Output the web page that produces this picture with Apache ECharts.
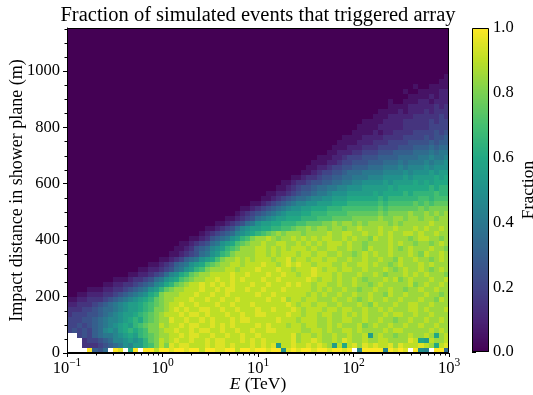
<!DOCTYPE html>
<html><head><meta charset="utf-8">
<script src="https://cdn.jsdelivr.net/npm/echarts/dist/echarts.min.js"></script>
<style>html,body{margin:0;padding:0;background:#fff}#c{width:533px;height:395px}</style>
</head><body><div id="c"></div>
<script>
// ---------- data ----------
const titleText = 'Fraction of simulated events that triggered array';
const xName = '{i|E} (TeV)';
const yName = 'Impact distance in shower plane (m)';
const cbName = 'Fraction';
const energyRange = [0.1, 1000];      // TeV, log-spaced bins
const nEnergyBins = 75;
const distanceMax = 1152;             // m
const nDistanceBins = 64;
const levelCodes = '0123456789abcdefghijk';   // fraction = index/20 ; '.' = no events
// rows from top (largest distance) to bottom (0 m), 75 energy bins each
const fractionRows = [
'00000 00000 00000 00000 00000 00000 00000 00000 00000 00000 00000 00000 00000 00000 00000',
'00000 00000 00000 00000 00000 00000 00000 00000 00000 00000 00000 00000 00000 00000 00000',
'00000 00000 00000 00000 00000 00000 00000 00000 00000 00000 00000 00000 00000 00000 00000',
'00000 00000 00000 00000 00000 00000 00000 00000 00000 00000 00000 00000 00000 00000 00000',
'00000 00000 00000 00000 00000 00000 00000 00000 00000 00000 00000 00000 00000 00000 00000',
'00000 00000 00000 00000 00000 00000 00000 00000 00000 00000 00000 00000 00000 00000 00000',
'00000 00000 00000 00000 00000 00000 00000 00000 00000 00000 00000 00000 00000 00000 00000',
'00000 00000 00000 00000 00000 00000 00000 00000 00000 00000 00000 00000 00000 00000 00000',
'00000 00000 00000 00000 00000 00000 00000 00000 00000 00000 00000 00000 00000 00000 00000',
'00000 00000 00000 00000 00000 00000 00000 00000 00000 00000 00000 00000 00000 00000 00001',
'00000 00000 00000 00000 00000 00000 00000 00000 00000 00000 00000 00000 00000 00000 00011',
'00000 00000 00000 00000 00000 00000 00000 00000 00000 00000 00000 00000 00000 00010 01111',
'00000 00000 00000 00000 00000 00000 00000 00000 00000 00000 00000 00000 00000 01001 11122',
'00000 00000 00000 00000 00000 00000 00000 00000 00000 00000 00000 00000 00000 00111 12122',
'00000 00000 00000 00000 00000 00000 00000 00000 00000 00000 00000 00000 00010 01112 21222',
'00000 00000 00000 00000 00000 00000 00000 00000 00000 00000 00000 00000 00011 11222 22323',
'00000 00000 00000 00000 00000 00000 00000 00000 00000 00000 00000 00000 01111 21222 32333',
'00000 00000 00000 00000 00000 00000 00000 00000 00000 00000 00000 00000 11122 22233 33343',
'00000 00000 00000 00000 00000 00000 00000 00000 00000 00000 00000 00011 11222 23333 34344',
'00000 00000 00000 00000 00000 00000 00000 00000 00000 00000 00000 00111 12222 23333 34444',
'00000 00000 00000 00000 00000 00000 00000 00000 00000 00000 00000 01111 21223 33344 44545',
'00000 00000 00000 00000 00000 00000 00000 00000 00000 00000 00001 11122 22333 34444 54556',
'00000 00000 00000 00000 00000 00000 00000 00000 00000 00000 00011 11222 33344 44555 56566',
'00000 00000 00000 00000 00000 00000 00000 00000 00000 00000 00111 22233 34444 55566 67677',
'00000 00000 00000 00000 00000 00000 00000 00000 00000 00000 01122 23344 45556 66677 78788',
'00000 00000 00000 00000 00000 00000 00000 00000 00000 00001 11223 44455 56666 77778 89889',
'00000 00000 00000 00000 00000 00000 00000 00000 00000 00011 12234 45556 66777 87888 9899a',
'00000 00000 00000 00000 00000 00000 00000 00000 00000 00112 23445 56667 77888 98999 a9aaa',
'00000 00000 00000 00000 00000 00000 00000 00000 00000 01123 44556 77788 88999 9a9aa ababb',
'00000 00000 00000 00000 00000 00000 00000 00000 00001 12334 55667 78889 99aaa ababb bbcbc',
'00000 00000 00000 00000 00000 00000 00000 00000 00112 33455 66778 899aa aabab bbbcb cbccc',
'00000 00000 00000 00000 00000 00000 00000 00000 01123 45567 78899 aaabb bbbcb ccccc cdcdd',
'00000 00000 00000 00000 00000 00000 00000 00001 12234 56678 89aaa bbbbb cbccc cdcdd ddedd',
'00000 00000 00000 00000 00000 00000 00000 00011 23456 77899 aabbb ccccc cdcdd dddde edeee',
'00000 00000 00000 00000 00000 00000 00000 01123 45678 99aab bbccc ddddd dedee eeefe fefff',
'00000 00000 00000 00000 00000 00000 00001 12345 6789a abbcc cddde eeeee efeff ffffg fgggg',
'00000 00000 00000 00000 00000 00000 00012 34567 89abb bccdd deeee fffff fgfgg gghgg hghgh',
'00000 00000 00000 00000 00000 00000 01123 45789 abbcc cddde eefff fgggg ghggh hghhg hhghh',
'00000 00000 00000 00000 00000 00001 12345 78abb ccddd eefff gghgh hghgh hhhgh ghhhh hihhh',
'00000 00000 00000 00000 00000 00112 34579 abbcc ddeef gghgh hghhg hhihh hihhi hhhih ihhih',
'00000 00000 00000 00000 00000 01234 5679a bcdef ghghh hghhh hihhi ihhih hihih hiihi hhihh',
'00000 00000 00000 00000 00001 12356 78abd eghhi hghhi hihih iihhi hihhg ihhih hhghi ihhgh',
'00000 00000 00000 00000 00112 34578 abcef ghhih hiihh ihihi hiiih ihhgh hhhih ihhgh hghih',
'00000 00000 00000 00000 01123 5679a bdefh hhiih ihihi iihih hiihh ihhgi hhhih ghihh hihhg',
'00000 00000 00000 00000 11234 578ab deghh hhiih ihiii hiihi ihhih hghih ihhih hhihg ihhih',
'00000 00000 00000 00011 23467 8abce ghhih ihiii hiijh iihii hiihh ihhih hihhg ihhih hghih',
'00000 00000 00000 01123 4678a bcefg hhiih iiiji ihiji jiihi iihhi hhiih ihhgh ihhhi hihhh',
'00000 00000 00001 12234 578ab deghh hiihi iijii ijiih iiiji hiihi ihhih hhihg hihhi hghih',
'00000 00000 00112 23457 9acdf ghhii iijii jiiij iijii hiiji iihih hhihh ihghh hihih ihhhg',
'00000 00001 11233 4578a bcefg hhiij iijij iiiji ijiii iijih iihih hihgh hhihi ghihh hihhi',
'00000 00112 23345 679ac dfghi ijiji jijii ijiij iiiji jiihi ihhih hihhg hihhh hhigh ihhih',
'00001 11223 34567 8abdf ghhii ijiij ijjii jiiji iijii iiihi hihhi hhghh ihhih hghhi hhihh',
'00112 22334 56789 acdgh hhiii jiiji ijiii iijii jiiii iihih ihhih hihhi hhgih hihhh ihhgh',
'11223 33456 789ab cdfgh hiiij iijii jiiji iiiij iijhi ihiih hhihh ihghi hhihh ihhhi hhgih',
'22333 45678 9abbc defgh iijii jiiij iijii ijiii iiiji hiihi ihhih hhihg ihhhi hhiih hihhh',
'33344 56778 9abbc deggh ijiji ijjii jiiji iijii jiiij ihiii hiihi ihhih hihih hhiih ihhhi',
'34445 56789 abbcd efghi iijij jijii ijiij iijji iiiji ihiih iihhi hihih hhihi ihhih hihhh',
'44455 67899 abcdc efghh jiiji ijiji iijij jiiii ijiii hiiih hihhi ihhih hihhg hhihh ihhih',
'44545 6789a bcbde fggih iijij jiiji jijii iijij iiihi ihiih hihih hhigh ihhih hihhi hhihh',
'45454 679a9 bcdcd egghi ijiij ijjii jiiji ijiij jiiii ihhii hihhi ihihh hhihi ihhhh hihih',
'..454 67889 abcbd efghh iijij jiiji ijiij iijii iiiij hiihi hhihh ihhib hihhg hhihh ihchi',
'...34 45679 9abab dfgih ijiij iijij jiiij ijiji iiiij hiiji hhihj ihhih hiihh hhjic bihhi',
'...33 34567 8a9bb degig jijji iijij jijii ijiji jbiij iijij ihbic ijhji jiijh jiiij ihcij',
'....k 657.k j.ck. kkikk jkkjk kikkj jkkik kjkkj kkajk jkkjk kjkkj k.9kk kk9kj kj.ka 9.kk7'
];
const xTickLabels = [0.1, 1, 10, 100, 1000];
const yTickLabels = [0, 200, 400, 600, 800, 1000];
const cbTickLabels = [0, 0.2, 0.4, 0.6, 0.8, 1.0];
const viridis = ['#440154','#482475','#414487','#355f8d','#2a788e','#21918c','#22a884','#44bf70','#7ad151','#bddf26','#fde725'];

// ---------- build ----------
const FONT = 'Liberation Serif';
const lx0 = Math.log10(energyRange[0]), lx1 = Math.log10(energyRange[1]);
const xEdges = [];
for (let i = 0; i <= nEnergyBins; i++) xEdges.push(Math.pow(10, lx0 + (lx1 - lx0) * i / nEnergyBins));
const dy = distanceMax / nDistanceBins;
if (fractionRows.length !== nDistanceBins) throw new Error('rows: ' + fractionRows.length);
const cells = [];
fractionRows.forEach((row, k) => {
  const s = row.replace(/ /g, '');
  if (s.length !== nEnergyBins) throw new Error('row ' + k + ' has ' + s.length);
  const j = nDistanceBins - 1 - k;
  for (let i = 0; i < nEnergyBins; i++) {
    const ch = s[i];
    if (ch === '.') continue;
    cells.push([xEdges[i], xEdges[i + 1], j * dy, (j + 1) * dy, levelCodes.indexOf(ch) / 20]);
  }
});
// colorbar steps
const cbCells = [];
const nCb = 256;
for (let i = 0; i < nCb; i++) cbCells.push([0, 1, i / nCb, (i + 1) / nCb, (i + 0.5) / nCb]);
// minor ticks + frame for main plot
const decorations = [[energyRange[0], 0, 2]];
[0.1, 1, 10, 100].forEach(d => { for (let k = 2; k <= 9; k++) decorations.push([d * k, 0, 0]); });
for (let y = 50; y < distanceMax; y += 50) if (y % 200 !== 0) decorations.push([energyRange[0], y, 1]);

const rectItem = (params, api) => {
  const a = api.coord([api.value(0), api.value(3)]);
  const b = api.coord([api.value(1), api.value(2)]);
  const x0 = Math.round(a[0]), x1 = Math.round(b[0]), y0 = Math.round(a[1]), y1 = Math.round(b[1]);
  return { type: 'rect', shape: { x: x0, y: y0, width: x1 - x0, height: y1 - y0 }, style: { fill: api.visual('color') } };
};
const blk = '#000';
const chart = echarts.init(document.getElementById('c'));
chart.setOption({
  animation: false,
  backgroundColor: '#fff',
  title: { text: titleText, left: 253, top: 0, textAlign: 'center',
    textStyle: { fontFamily: FONT, fontSize: 20.5, fontWeight: 'normal', color: blk } },
  grid: [
    { left: 67, right: 84, top: 28, bottom: 42, outerBoundsMode: 'none' },
    { left: 472, width: 17, top: 28, height: 324, outerBoundsMode: 'none' }
  ],
  visualMap: { show: false, type: 'continuous', min: 0, max: 1, dimension: 4, seriesIndex: [0, 1], inRange: { color: viridis } },
  xAxis: [
    { type: 'log', logBase: 10, min: energyRange[0], max: energyRange[1], gridIndex: 0,
      axisLine: { show: true, lineStyle: { color: blk, width: 1 } },
      axisTick: { show: true, inside: false, length: 4, lineStyle: { color: blk, width: 1 } },
      splitLine: { show: false },
      axisLabel: { margin: 4, color: blk,
        formatter: v => { const e = Math.round(Math.log10(v)); return '{b|10}{s|' + (e < 0 ? '\u2212' : '') + Math.abs(e) + '}'; },
        rich: { b: { fontFamily: FONT, fontSize: 16.5, lineHeight: 20, verticalAlign: 'bottom', color: blk },
                s: { fontFamily: FONT, fontSize: 11.5, lineHeight: 20, verticalAlign: 'top', color: blk } } },
      name: xName, nameLocation: 'middle', nameGap: 22, nameMoveOverlap: false,
      nameTextStyle: { fontFamily: FONT, fontSize: 17.5, color: blk,
        rich: { i: { fontFamily: FONT, fontSize: 17.5, fontStyle: 'italic', color: blk } } } },
    { type: 'value', min: 0, max: 1, gridIndex: 1, show: false }
  ],
  yAxis: [
    { type: 'value', min: 0, max: distanceMax, gridIndex: 0,
      axisLine: { show: true, lineStyle: { color: blk, width: 1 } },
      axisTick: { show: true, inside: false, length: 4, lineStyle: { color: blk, width: 1 }, customValues: yTickLabels },
      splitLine: { show: false },
      axisLabel: { margin: 7, color: blk, fontFamily: FONT, fontSize: 16.5, customValues: yTickLabels, formatter: v => String(v) },
      name: yName, nameLocation: 'middle', nameGap: 41, nameMoveOverlap: false,
      nameTextStyle: { fontFamily: FONT, fontSize: 18, color: blk } },
    { type: 'value', min: 0, max: 1, interval: 0.2, gridIndex: 1, position: 'right',
      axisLine: { show: false },
      axisTick: { show: true, inside: false, length: 4, lineStyle: { color: blk, width: 1 } },
      minorTick: { show: true, splitNumber: 4, length: 2, lineStyle: { color: blk, width: 1 } },
      splitLine: { show: false }, minorSplitLine: { show: false },
      axisLabel: { margin: 4, color: blk, fontFamily: FONT, fontSize: 16.5, formatter: v => v.toFixed(1) },
      name: cbName, nameLocation: 'middle', nameRotate: 90, nameGap: 30, nameMoveOverlap: false,
      nameTextStyle: { fontFamily: FONT, fontSize: 17.5, color: blk } }
  ],
  series: [
    { type: 'custom', xAxisIndex: 0, yAxisIndex: 0, renderItem: rectItem, data: cells,
      dimensions: ['x0', 'x1', 'y0', 'y1', 'v'], encode: { x: [0, 1], y: [2, 3] }, silent: true, z: 1 },
    { type: 'custom', xAxisIndex: 1, yAxisIndex: 1, renderItem: rectItem, data: cbCells,
      dimensions: ['x0', 'x1', 'y0', 'y1', 'v'], encode: { x: [0, 1], y: [2, 3] }, silent: true, z: 1 },
    { type: 'custom', xAxisIndex: 0, yAxisIndex: 0, data: decorations, silent: true, z: 5, clip: false,
      encode: { x: 0, y: 1 },
      renderItem: (params, api) => {
        const kind = api.value(2);
        const p = api.coord([api.value(0), api.value(1)]);
        const cs = params.coordSys;
        const ls = { stroke: blk, lineWidth: 1, fill: null };
        if (kind === 2) return { type: 'rect', shape: { x: cs.x + 0.5, y: cs.y + 0.5, width: cs.width - 1, height: cs.height - 1 }, style: ls };
        if (kind === 0) { const x = Math.round(p[0]) + 0.5; return { type: 'line', shape: { x1: x, y1: cs.y + cs.height, x2: x, y2: cs.y + cs.height + 2.5 }, style: ls }; }
        const y = Math.round(p[1]) + 0.5; return { type: 'line', shape: { x1: cs.x, y1: y, x2: cs.x - 2.5, y2: y }, style: ls };
      } },
    { type: 'custom', xAxisIndex: 1, yAxisIndex: 1, data: [[0, 0]], silent: true, z: 5, clip: false,
      encode: { x: 0, y: 1 },
      renderItem: (params, api) => {
        const cs = params.coordSys;
        return { type: 'rect', shape: { x: cs.x + 0.5, y: cs.y + 0.5, width: cs.width - 1, height: cs.height - 1 }, style: { stroke: blk, lineWidth: 1, fill: null } };
      } }
  ]
});
</script></body></html>
